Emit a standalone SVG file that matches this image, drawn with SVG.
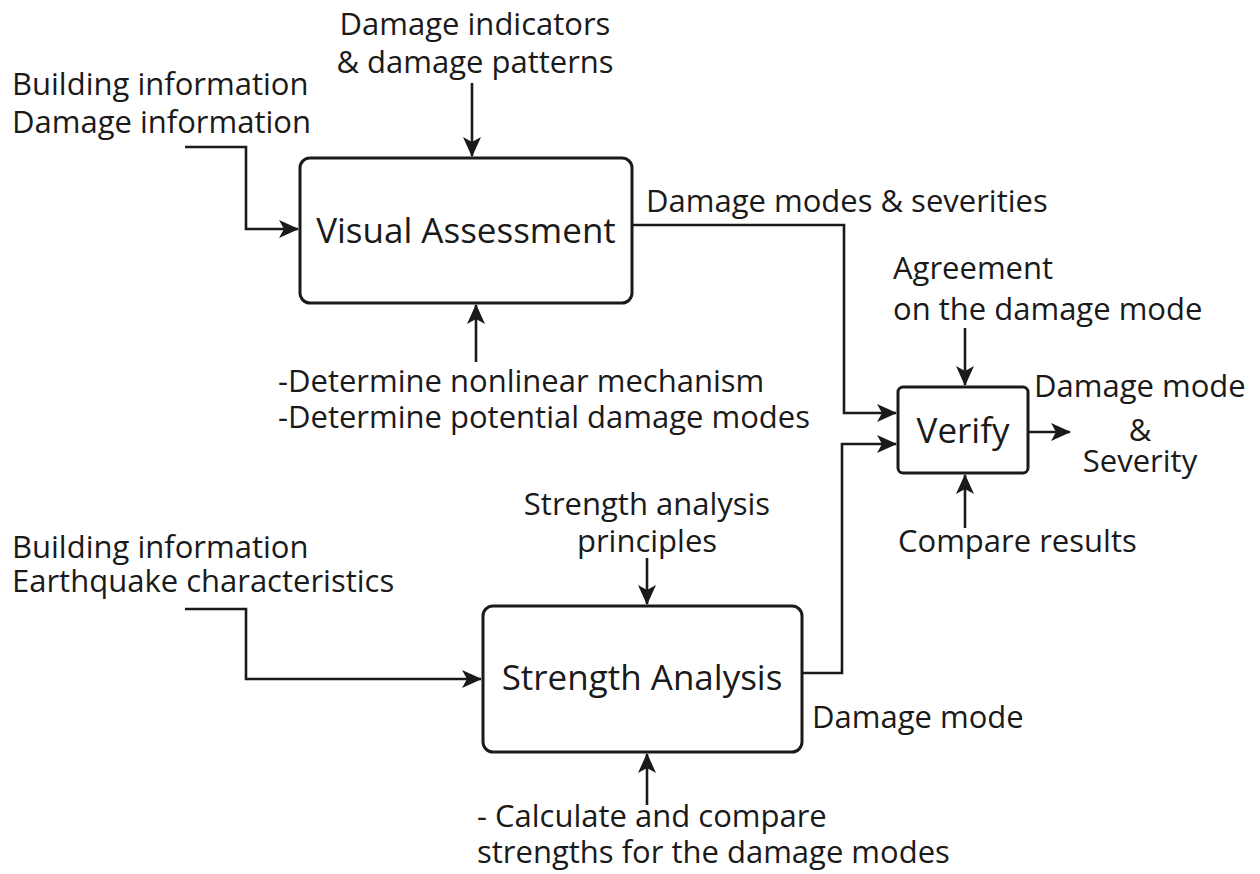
<svg xmlns="http://www.w3.org/2000/svg" width="1260" height="874" viewBox="0 0 1260 874">
<style>
  text { font-family: "Open Sans", "Noto Sans", "Liberation Sans", sans-serif; fill: #1a1a1a; }
  .lbl { font-size: 31px; }
  .ttl { font-size: 35px; }
  .mid { text-anchor: middle; }
  .box { fill: #ffffff; stroke: #1a1a1a; stroke-width: 3; }
  .con { fill: none; stroke: #1a1a1a; stroke-width: 2.6; }
</style>
<defs>
  <marker id="arr" viewBox="0 0 20 20" refX="19" refY="10" markerWidth="20" markerHeight="20" markerUnits="userSpaceOnUse" orient="auto">
    <path d="M0,1 L20,10 L0,19 L5,10 z" fill="#1a1a1a"/>
  </marker>
</defs>
<rect width="1260" height="874" fill="#ffffff"/>

<g id="connectors">
  <path class="con" d="M185,147 H246 V229 H298" marker-end="url(#arr)"/>
  <path class="con" d="M472,83 V156" marker-end="url(#arr)"/>
  <path class="con" d="M476,362 V305" marker-end="url(#arr)"/>
  <path class="con" d="M632,225 H844 V413 H896" marker-end="url(#arr)"/>
  <path class="con" d="M965,328 V385" marker-end="url(#arr)"/>
  <path class="con" d="M965,528 V475" marker-end="url(#arr)"/>
  <path class="con" d="M1028,432 H1070" marker-end="url(#arr)"/>
  <path class="con" d="M802,673 H842 V444 H896" marker-end="url(#arr)"/>
  <path class="con" d="M185,609 H246 V679 H481" marker-end="url(#arr)"/>
  <path class="con" d="M647,558 V604" marker-end="url(#arr)"/>
  <path class="con" d="M647,805 V754" marker-end="url(#arr)"/>
</g>

<g id="visual-assessment">
  <rect class="box" x="300" y="158" width="332" height="145" rx="10"/>
  <text class="ttl mid" x="466" y="243">Visual Assessment</text>
</g>

<g id="verify">
  <rect class="box" x="898" y="387" width="130" height="86" rx="5"/>
  <text class="ttl mid" x="963" y="443">Verify</text>
</g>

<g id="strength-analysis">
  <rect class="box" x="483" y="606" width="319" height="146" rx="10"/>
  <text class="ttl mid" x="642" y="690">Strength Analysis</text>
</g>

<g id="labels">
  <text class="lbl mid" x="475" y="35">Damage indicators</text>
  <text class="lbl mid" x="475" y="73">&amp; damage patterns</text>
  <text class="lbl" x="12" y="95">Building information</text>
  <text class="lbl" x="12" y="133">Damage information</text>
  <text class="lbl" x="646" y="212">Damage modes &amp; severities</text>
  <text class="lbl" x="278" y="392">-Determine nonlinear mechanism</text>
  <text class="lbl" x="278" y="428">-Determine potential damage modes</text>
  <text class="lbl" x="893" y="279">Agreement</text>
  <text class="lbl" x="893" y="320">on the damage mode</text>
  <text class="lbl" x="1034" y="397">Damage mode</text>
  <text class="lbl mid" x="1140" y="441">&amp;</text>
  <text class="lbl mid" x="1140" y="472">Severity</text>
  <text class="lbl" x="898" y="552">Compare results</text>
  <text class="lbl mid" x="647" y="515">Strength analysis</text>
  <text class="lbl mid" x="647" y="552">principles</text>
  <text class="lbl" x="12" y="558">Building information</text>
  <text class="lbl" x="12" y="592">Earthquake characteristics</text>
  <text class="lbl" x="812" y="728">Damage mode</text>
  <text class="lbl" x="477" y="827">- Calculate and compare</text>
  <text class="lbl" x="477" y="863">strengths for the damage modes</text>
</g>
</svg>
